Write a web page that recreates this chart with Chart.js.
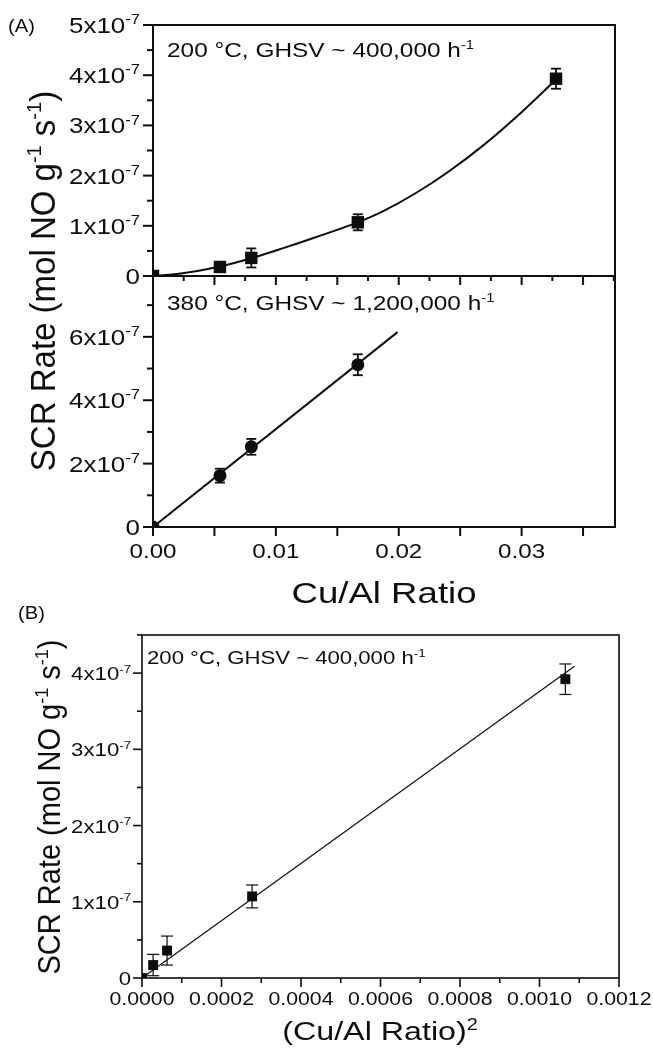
<!DOCTYPE html>
<html>
<head>
<meta charset="utf-8">
<script src="https://cdn.jsdelivr.net/npm/chart.js@4.4.1/dist/chart.umd.min.js"></script>
<style>
  body { margin: 0; background: #fff; }
  #wrap { position: relative; width: 653px; height: 1048px; }
  canvas { position: absolute; left: 0; top: 0; }
</style>
</head>
<body>
<div id="wrap">
  <canvas id="chartA1" width="653" height="1048"></canvas>
  <canvas id="chartA2" width="653" height="1048"></canvas>
  <canvas id="chartB" width="653" height="1048"></canvas>
</div>
<script>
// (A) upper: 200 °C, squares + fitted curve
const ratioA1 = [0, 0.00545, 0.0080, 0.01667, 0.0328];
const rateA1 = [0, 0.18e-7, 0.36e-7, 1.07e-7, 3.93e-7];
const errA1 = [0, 0.10e-7, 0.19e-7, 0.16e-7, 0.20e-7];
const curveA1X = [0, 0.0024, 0.00542, 0.0080, 0.0106, 0.0133, 0.0167, 0.0187, 0.0214, 0.0241, 0.0268, 0.0295, 0.0327];
const curveA1Y = [0, 0.053e-7, 0.19e-7, 0.355e-7, 0.555e-7, 0.776e-7, 1.072e-7, 1.287e-7, 1.653e-7, 2.087e-7, 2.587e-7, 3.153e-7, 3.89e-7];

// (A) lower: 380 °C, circles + line
const ratioA2 = [0, 0.00545, 0.0080, 0.01667];
const rateA2 = [0, 1.62e-7, 2.53e-7, 5.12e-7];
const errA2 = [0, 0.22e-7, 0.25e-7, 0.33e-7];
const lineA2X = [0, 0.0199];
const lineA2Y = [0, 6.15e-7];

// (B) rate vs (Cu/Al)^2
const ratioSqB = [0, 0.000028, 0.000063, 0.000277, 0.001065];
const rateB = [0, 0.17e-7, 0.36e-7, 1.07e-7, 3.92e-7];
const errB = [0, 0.14e-7, 0.19e-7, 0.15e-7, 0.20e-7];
const lineBX = [0, 0.001088];
const lineBY = [0, 4.09e-7];

// tick values and labels
const xTickA = [0, 0.01, 0.02, 0.03];
const xTickLabelA = ['0.00', '0.01', '0.02', '0.03'];
const yTickA1 = [0, 1e-7, 2e-7, 3e-7, 4e-7, 5e-7];
const yTickLabelA1 = ['0', '1x10^-7', '2x10^-7', '3x10^-7', '4x10^-7', '5x10^-7'];
const yTickA2 = [0, 2e-7, 4e-7, 6e-7];
const yTickLabelA2 = ['0', '2x10^-7', '4x10^-7', '6x10^-7'];
const xTickB = [0, 0.0002, 0.0004, 0.0006, 0.0008, 0.0010, 0.0012];
const xTickLabelB = ['0.0000', '0.0002', '0.0004', '0.0006', '0.0008', '0.0010', '0.0012'];
const yTickB = [0, 1e-7, 2e-7, 3e-7, 4e-7];
const yTickLabelB = ['0', '1x10^-7', '2x10^-7', '3x10^-7', '4x10^-7'];

const FONT = '"Liberation Sans", Arial, Helvetica, sans-serif';
const INK = '#0d0d0d';

const pts = (xs, ys) => xs.map((x, i) => ({ x: x, y: ys[i] }));
const range = (a, b, step) => { const r = []; for (let v = a; v <= b + step / 1000; v += step) r.push(+v.toFixed(10)); return r; };

// text with ^superscript^ parts, optional horizontal stretch and rotation
function rich(ctx, str, x, y, o) {
  const size = o.size, sx = o.sx || 1, sup = Math.round(size * 0.62);
  const parts = str.split('^');
  let w = 0;
  const ws = parts.map((p, i) => {
    ctx.font = (i % 2 ? sup : size) + 'px ' + FONT;
    const m = ctx.measureText(p).width;
    w += m;
    return m;
  });
  ctx.save();
  ctx.translate(x, y);
  ctx.scale(sx, 1);
  if (o.rot) ctx.rotate(o.rot);
  ctx.fillStyle = INK;
  ctx.textAlign = 'left';
  ctx.textBaseline = 'alphabetic';
  let cx = o.align === 'center' ? -w / 2 : o.align === 'right' ? -w : 0;
  parts.forEach((p, i) => {
    ctx.font = (i % 2 ? sup : size) + 'px ' + FONT;
    ctx.fillText(p, cx, i % 2 ? -size * 0.4 : 0);
    cx += ws[i];
  });
  ctx.restore();
}

function seg(ctx, x1, y1, x2, y2) {
  ctx.beginPath();
  ctx.moveTo(x1, y1);
  ctx.lineTo(x2, y2);
  ctx.stroke();
}

function yTicks(ctx, sc, vals, x, len) {
  vals.forEach(v => { const p = sc.getPixelForValue(v); seg(ctx, x - len, p, x, p); });
}
function xTicks(ctx, sc, vals, y, len) {
  vals.forEach(v => { const p = sc.getPixelForValue(v); seg(ctx, p, y, p, y + len); });
}

function errorBars(chart, xs, ys, es, cap, lw) {
  const { ctx, scales: { x, y } } = chart;
  ctx.save();
  ctx.strokeStyle = INK;
  ctx.lineWidth = lw;
  xs.forEach((v, i) => {
    if (!es[i]) return;
    const px = x.getPixelForValue(v);
    const t = y.getPixelForValue(ys[i] + es[i]);
    const b = y.getPixelForValue(ys[i] - es[i]);
    seg(ctx, px, t, px, b);
    seg(ctx, px - cap, t, px + cap, t);
    seg(ctx, px - cap, b, px + cap, b);
  });
  ctx.restore();
}

function makeChart(id, pad, xr, yr, datasets, plugin) {
  return new Chart(document.getElementById(id), {
    type: 'scatter',
    data: { datasets: datasets },
    options: {
      responsive: false,
      animation: false,
      devicePixelRatio: 1,
      events: [],
      layout: { padding: pad },
      plugins: { legend: { display: false }, tooltip: { enabled: false } },
      scales: {
        x: { type: 'linear', display: false, min: xr[0], max: xr[1] },
        y: { type: 'linear', display: false, min: yr[0], max: yr[1] }
      }
    },
    plugins: [plugin]
  });
}

const markers = (data, style, r) => ({
  data: data, pointStyle: style, pointRadius: r, pointBackgroundColor: INK,
  pointBorderWidth: 0, showLine: false, clip: 0
});
const fitLine = (data, w, smooth) => ({
  data: data, showLine: true, pointRadius: 0, borderColor: INK, borderWidth: w,
  cubicInterpolationMode: smooth ? 'monotone' : 'default', tension: 0, clip: 0
});

// upper panel of (A)
makeChart('chartA1', { left: 153, right: 38, top: 25, bottom: 772 }, [0, 0.0376], [0, 5e-7], [
  markers(pts(ratioA1, rateA1), 'rect', 8.8),
  fitLine(pts(curveA1X, curveA1Y), 2, true)
], {
  id: 'frameA1',
  afterDatasetsDraw(chart) {
    errorBars(chart, ratioA1, rateA1, errA1, 5, 1.8);
    const { ctx, chartArea: a, scales: { x, y } } = chart;
    ctx.save();
    ctx.strokeStyle = INK;
    ctx.lineWidth = 2;
    ctx.strokeRect(a.left, a.top, a.right - a.left, a.bottom - a.top);
    yTicks(ctx, y, yTickA1, a.left, 10);
    yTicks(ctx, y, range(0.5e-7, 4.5e-7, 1e-7), a.left, 6);
    xTicks(ctx, x, range(0, 0.035, 0.005), a.bottom, 9);
    xTicks(ctx, x, range(0.0025, 0.0375, 0.005), a.bottom, 5);
    ctx.restore();
    yTickLabelA1.forEach((t, i) => rich(ctx, t, 140, y.getPixelForValue(yTickA1[i]) + 8, { size: 22, sx: 1.18, align: 'right' }));
    rich(ctx, '200 °C, GHSV ~ 400,000 h^-1', 167, 57, { size: 20, sx: 1.22 });
    rich(ctx, '(A)', 8, 32, { size: 18, sx: 1.12 });
  }
});

// lower panel of (A)
makeChart('chartA2', { left: 153, right: 38, top: 276, bottom: 521 }, [0, 0.0376], [0, 7.92e-7], [
  markers(pts(ratioA2, rateA2), 'circle', 6.5),
  fitLine(pts(lineA2X, lineA2Y), 2, false)
], {
  id: 'frameA2',
  afterDatasetsDraw(chart) {
    errorBars(chart, ratioA2, rateA2, errA2, 5, 1.8);
    const { ctx, chartArea: a, scales: { x, y } } = chart;
    ctx.save();
    ctx.strokeStyle = INK;
    ctx.lineWidth = 2;
    ctx.strokeRect(a.left, a.top, a.right - a.left, a.bottom - a.top);
    yTicks(ctx, y, yTickA2, a.left, 10);
    yTicks(ctx, y, range(1e-7, 7e-7, 2e-7), a.left, 6);
    xTicks(ctx, x, range(0, 0.035, 0.005), a.bottom, 9);
    ctx.restore();
    yTickLabelA2.forEach((t, i) => rich(ctx, t, 140, y.getPixelForValue(yTickA2[i]) + 8, { size: 22, sx: 1.18, align: 'right' }));
    xTickLabelA.forEach((t, i) => rich(ctx, t, x.getPixelForValue(xTickA[i]), 558, { size: 21, sx: 1.15, align: 'center' }));
    rich(ctx, '380 °C, GHSV ~ 1,200,000 h^-1', 167, 310, { size: 20, sx: 1.22 });
    rich(ctx, 'SCR Rate (mol NO g^-1^ s^-1^)', 55, 281, { size: 33, sx: 1.05, align: 'center', rot: -Math.PI / 2 });
    rich(ctx, 'Cu/Al Ratio', 384, 603, { size: 30, sx: 1.22, align: 'center' });
  }
});

// panel (B)
makeChart('chartB', { left: 142, right: 34, top: 635, bottom: 70 }, [0, 0.0012], [0, 4.5e-7], [
  markers(pts(ratioSqB, rateB), 'rect', 7),
  fitLine(pts(lineBX, lineBY), 1.2, false)
], {
  id: 'frameB',
  afterDatasetsDraw(chart) {
    errorBars(chart, ratioSqB, rateB, errB, 6, 1.2);
    const { ctx, chartArea: a, scales: { x, y } } = chart;
    ctx.save();
    ctx.strokeStyle = INK;
    ctx.lineWidth = 1.6;
    ctx.strokeRect(a.left, a.top, a.right - a.left, a.bottom - a.top);
    yTicks(ctx, y, yTickB, a.left, 9);
    yTicks(ctx, y, range(0.5e-7, 4.5e-7, 1e-7), a.left, 5);
    xTicks(ctx, x, xTickB, a.bottom, 9);
    xTicks(ctx, x, range(0.0001, 0.0011, 0.0002), a.bottom, 5);
    ctx.restore();
    yTickLabelB.forEach((t, i) => rich(ctx, t, 131, y.getPixelForValue(yTickB[i]) + 7, { size: 18.5, sx: 1.2, align: 'right' }));
    xTickLabelB.forEach((t, i) => rich(ctx, t, x.getPixelForValue(xTickB[i]), 1005, { size: 18.5, sx: 1.15, align: 'center' }));
    rich(ctx, '200 °C, GHSV ~ 400,000 h^-1', 147, 664, { size: 18, sx: 1.23 });
    rich(ctx, 'SCR Rate (mol NO g^-1^ s^-1^)', 60, 807, { size: 29, sx: 1.06, align: 'center', rot: -Math.PI / 2 });
    rich(ctx, '(Cu/Al Ratio)^2', 380, 1040, { size: 26, sx: 1.24, align: 'center' });
    rich(ctx, '(B)', 18, 619, { size: 18, sx: 1.12 });
  }
});
</script>
</body>
</html>
